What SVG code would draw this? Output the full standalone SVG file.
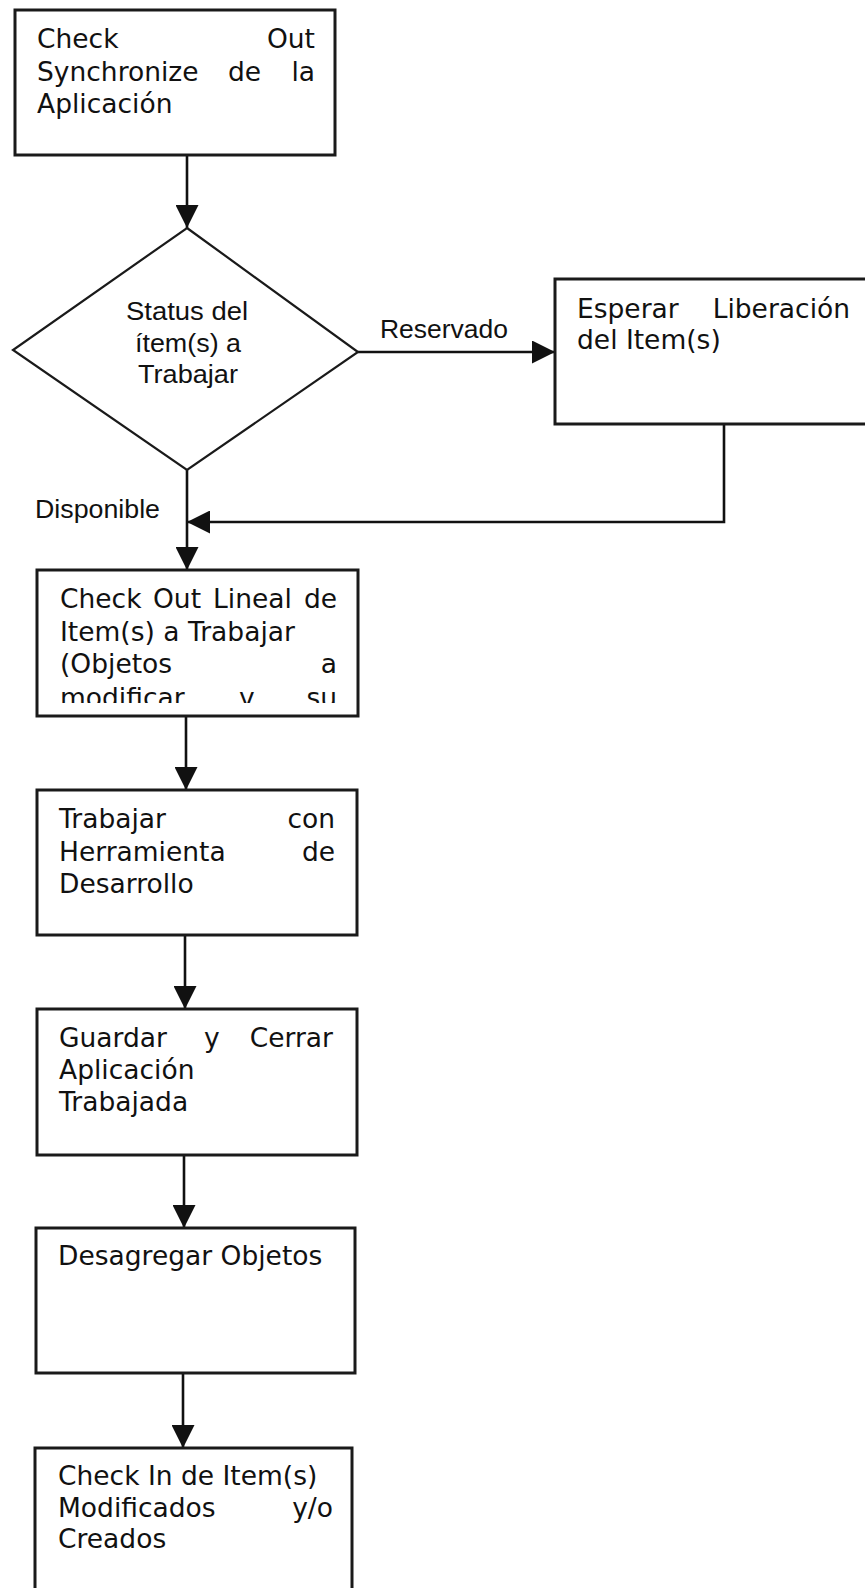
<svg xmlns="http://www.w3.org/2000/svg" width="865" height="1588" viewBox="0 0 865 1588">
  <style>
    .box { fill: #ffffff; stroke: #1a1a1a; stroke-width: 3; }
    .dec { fill: #ffffff; stroke: #1a1a1a; stroke-width: 2.2; }
    .link { fill: none; stroke: #111111; stroke-width: 2.6; }
    .txt { font-family: "DejaVu Sans", Verdana, sans-serif; font-size: 26.5px; fill: #111111; }
    .lbl { font-family: "Liberation Sans", Arial, sans-serif; font-size: 25px; fill: #111111; }
    .end { text-anchor: end; }
    .mid { text-anchor: middle; }
  </style>
  <defs>
    <marker id="arrow" viewBox="0 0 20 20" refX="20" refY="10" markerWidth="23" markerHeight="23" markerUnits="userSpaceOnUse" orient="auto">
      <path d="M0,0 L20,10 L0,20 z" fill="#111111"/>
    </marker>
    <clipPath id="clipLineal">
      <rect x="37" y="570" width="321" height="133"/>
    </clipPath>
  </defs>

  <rect width="865" height="1588" fill="#ffffff"/>

  <!-- connectors -->
  <g id="connectors">
    <line class="link" x1="187" y1="155" x2="187" y2="228" marker-end="url(#arrow)"/>
    <line class="link" x1="358" y1="352" x2="555" y2="352" marker-end="url(#arrow)"/>
    <polyline class="link" points="724,424 724,522 187,522" marker-end="url(#arrow)"/>
    <line class="link" x1="187" y1="470" x2="187" y2="570" marker-end="url(#arrow)"/>
    <line class="link" x1="186" y1="716" x2="186" y2="790" marker-end="url(#arrow)"/>
    <line class="link" x1="185" y1="935" x2="185" y2="1009" marker-end="url(#arrow)"/>
    <line class="link" x1="184" y1="1155" x2="184" y2="1228" marker-end="url(#arrow)"/>
    <line class="link" x1="183" y1="1373" x2="183" y2="1448" marker-end="url(#arrow)"/>
    <text class="lbl" x="380" y="338" textLength="128" lengthAdjust="spacingAndGlyphs">Reservado</text>
    <text class="lbl" x="35" y="518" textLength="125" lengthAdjust="spacingAndGlyphs">Disponible</text>
  </g>

  <!-- start: synchronize -->
  <g id="n-sync">
    <rect class="box" x="15" y="10" width="320" height="145"/>
    <text class="txt" x="37" y="48">Check</text>
    <text class="txt end" x="315" y="48">Out</text>
    <text class="txt" x="37" y="81">Synchronize</text>
    <text class="txt" x="228" y="81">de</text>
    <text class="txt end" x="315" y="81">la</text>
    <text class="txt" x="37" y="113">Aplicación</text>
  </g>

  <!-- decision -->
  <g id="n-status">
    <polygon class="dec" points="187,228 358,352 187,470 13,350"/>
    <text class="lbl mid" x="187" y="320" textLength="122" lengthAdjust="spacingAndGlyphs">Status del</text>
    <text class="lbl mid" x="188" y="352" textLength="106" lengthAdjust="spacingAndGlyphs">ítem(s) a</text>
    <text class="lbl mid" x="188" y="383" textLength="100" lengthAdjust="spacingAndGlyphs">Trabajar</text>
  </g>

  <!-- wait for release -->
  <g id="n-esperar">
    <rect class="box" x="555" y="279" width="320" height="145"/>
    <text class="txt" x="577" y="318">Esperar</text>
    <text class="txt end" x="850" y="318">Liberación</text>
    <text class="txt" x="577" y="349">del Item(s)</text>
  </g>

  <!-- linear check out -->
  <g id="n-checkout">
    <rect class="box" x="37" y="570" width="321" height="146"/>
    <g clip-path="url(#clipLineal)">
      <text class="txt" x="60" y="608">Check</text>
      <text class="txt" x="153" y="608">Out</text>
      <text class="txt" x="213" y="608">Lineal</text>
      <text class="txt end" x="337" y="608">de</text>
      <text class="txt" x="60" y="641">Item(s) a Trabajar</text>
      <text class="txt" x="60" y="673">(Objetos</text>
      <text class="txt end" x="337" y="673">a</text>
      <text class="txt" x="60" y="707">modificar</text>
      <text class="txt" x="239" y="707">y</text>
      <text class="txt end" x="337" y="707">su</text>
    </g>
  </g>

  <!-- development tool -->
  <g id="n-trabajar">
    <rect class="box" x="37" y="790" width="320" height="145"/>
    <text class="txt" x="59" y="828">Trabajar</text>
    <text class="txt end" x="335" y="828">con</text>
    <text class="txt" x="59" y="861">Herramienta</text>
    <text class="txt end" x="335" y="861">de</text>
    <text class="txt" x="59" y="893">Desarrollo</text>
  </g>

  <!-- save and close -->
  <g id="n-guardar">
    <rect class="box" x="37" y="1009" width="320" height="146"/>
    <text class="txt" x="59" y="1047">Guardar</text>
    <text class="txt" x="204" y="1047">y</text>
    <text class="txt end" x="333" y="1047">Cerrar</text>
    <text class="txt" x="59" y="1079">Aplicación</text>
    <text class="txt" x="59" y="1111">Trabajada</text>
  </g>

  <!-- split objects -->
  <g id="n-desagregar">
    <rect class="box" x="36" y="1228" width="319" height="145"/>
    <text class="txt" x="58" y="1265">Desagregar Objetos</text>
  </g>

  <!-- check in -->
  <g id="n-checkin">
    <rect class="box" x="35" y="1448" width="317" height="160"/>
    <text class="txt" x="58" y="1485">Check In de Item(s)</text>
    <text class="txt" x="58" y="1517">Modificados</text>
    <text class="txt end" x="333" y="1517">y/o</text>
    <text class="txt" x="58" y="1548">Creados</text>
  </g>
</svg>
